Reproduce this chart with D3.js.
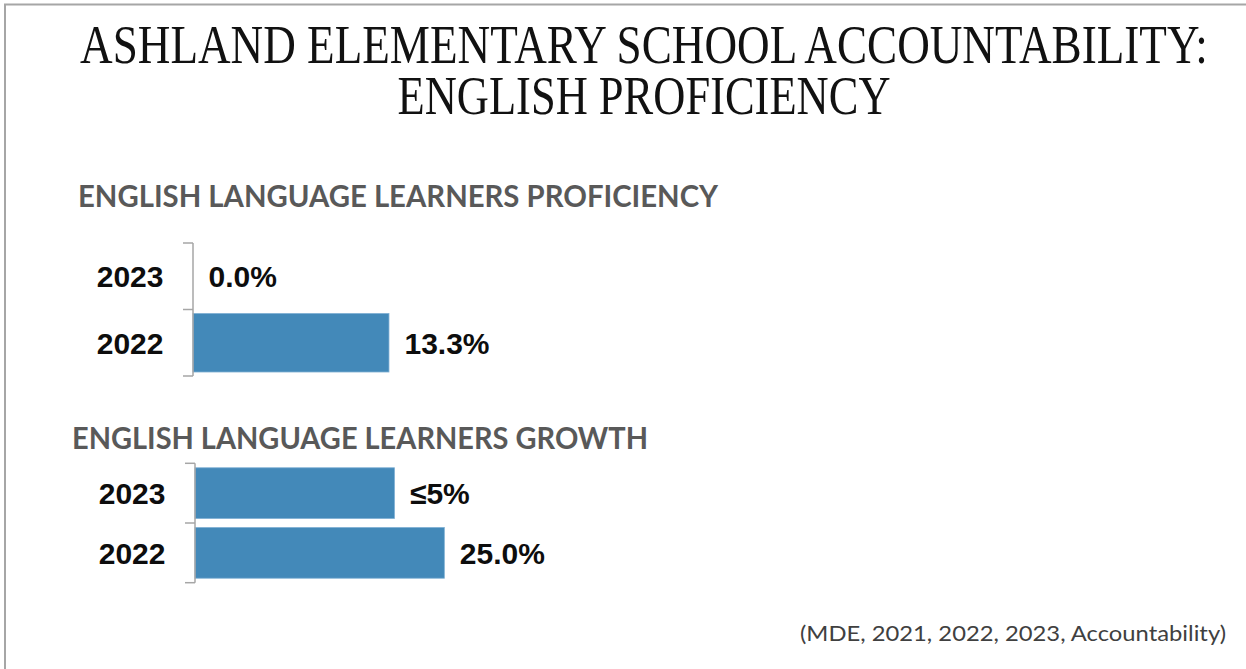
<!DOCTYPE html>
<html>
<head>
<meta charset="utf-8">
<script src="https://cdn.jsdelivr.net/npm/d3@7"></script>
<style>
  html, body { margin: 0; padding: 0; background: #ffffff; }
  svg { display: block; }
</style>
</head>
<body>
<svg id="chart" width="1246" height="669"></svg>
<script>
// Title and section headings
const titleLines = ["ASHLAND ELEMENTARY SCHOOL ACCOUNTABILITY:", "ENGLISH PROFICIENCY"];
const sectionTitles = ["ENGLISH LANGUAGE LEARNERS PROFICIENCY", "ENGLISH LANGUAGE LEARNERS GROWTH"];
const sourceNote = "(MDE, 2021, 2022, 2023, Accountability)";

// English Language Learners proficiency
const proficiencyYears = ["2023", "2022"];
const proficiencyValues = [0.0, 13.3];
const proficiencyLabels = ["0.0%", "13.3%"];

// English Language Learners growth
const growthYears = ["2023", "2022"];
const growthValues = [20.0, 25.0];
const growthLabels = ["\u22645%", "25.0%"];

const svg = d3.select("#chart");
const W = 1246, H = 669;

svg.append("rect").attr("width", W).attr("height", H).attr("fill", "#ffffff");

// slide frame (top and left edges)
svg.append("line").attr("x1", 4).attr("x2", W).attr("y1", 4.5).attr("y2", 4.5)
  .attr("stroke", "#a6a6a6").attr("stroke-width", 2);
svg.append("line").attr("x1", 5).attr("x2", 5).attr("y1", 4).attr("y2", H)
  .attr("stroke", "#a6a6a6").attr("stroke-width", 2);

// main title: two-line condensed serif, narrowed horizontally as one block
const titleFont = "'Liberation Serif', 'DejaVu Serif', serif";
const titleG = svg.append("g");
const titleText = titleG.append("text")
  .attr("text-anchor", "middle")
  .attr("font-family", titleFont).attr("font-size", 54)
  .attr("fill", "#111111");
const tLine1 = titleText.append("tspan").attr("x", 0).attr("y", 0).text(titleLines[0]);
const tLine2 = titleText.append("tspan").attr("x", 0).attr("y", 51).text(titleLines[1]);
const sx = 1128 / tLine1.node().getComputedTextLength();
tLine2.attr("textLength", 493 / sx).attr("lengthAdjust", "spacingAndGlyphs");
titleG.attr("transform", `translate(644,63) scale(${sx},1)`);

const headFont = "Lato, 'Liberation Sans', sans-serif";
const labelFont = "'Liberation Sans', Arial, sans-serif";

function drawPanel(cfg) {
  const g = svg.append("g");

  // section heading
  g.append("text")
    .attr("x", cfg.headX).attr("y", cfg.headY)
    .attr("font-family", headFont).attr("font-weight", 700)
    .attr("font-size", 31).attr("fill", "#595959")
    .attr("textLength", cfg.headW).attr("lengthAdjust", "spacingAndGlyphs")
    .text(cfg.heading);

  const x = d3.scaleLinear().domain(cfg.xDomain).range([cfg.x0, cfg.x0 + cfg.xWidth]);
  const y = d3.scaleBand().domain(cfg.years).range(cfg.yRange)
    .paddingInner(cfg.pad).paddingOuter(cfg.pad / 2);

  const rows = cfg.years.map((yr, i) => ({ year: yr, value: cfg.values[i], label: cfg.labels[i] }));

  // bars
  g.selectAll("rect.bar").data(rows).enter().append("rect")
    .attr("class", "bar")
    .attr("x", x(0))
    .attr("y", d => y(d.year))
    .attr("width", d => x(d.value) - x(0))
    .attr("height", y.bandwidth())
    .attr("fill", "#4389b9")
    .attr("stroke", "#7fb0d4").attr("stroke-width", 0.8);

  // category axis with tick marks between bands
  const axisX = x(0);
  g.append("line")
    .attr("x1", axisX).attr("x2", axisX)
    .attr("y1", cfg.yRange[0]).attr("y2", cfg.yRange[1])
    .attr("stroke", "#a6a6a6").attr("stroke-width", 1.5);
  const step = y.step();
  const tickYs = [cfg.yRange[0]].concat(cfg.years.map(yr => y(yr) + y.bandwidth() + (cfg.pad * step) / 2));
  tickYs[tickYs.length - 1] = cfg.yRange[1];
  g.selectAll("line.tick").data(tickYs).enter().append("line")
    .attr("class", "tick")
    .attr("x1", axisX - 10).attr("x2", axisX)
    .attr("y1", d => d).attr("y2", d => d)
    .attr("stroke", "#a6a6a6").attr("stroke-width", 1.5);

  // year labels
  g.selectAll("text.year").data(rows).enter().append("text")
    .attr("class", "year")
    .attr("x", axisX - 29.5)
    .attr("y", d => y(d.year) + y.bandwidth() / 2)
    .attr("dy", "0.36em")
    .attr("text-anchor", "end")
    .attr("font-family", labelFont).attr("font-weight", 700)
    .attr("font-size", 30).attr("fill", "#0d0d0d")
    .text(d => d.year);

  // value labels
  g.selectAll("text.val").data(rows).enter().append("text")
    .attr("class", "val")
    .attr("x", d => x(d.value) + 15.5)
    .attr("y", d => y(d.year) + y.bandwidth() / 2)
    .attr("dy", "0.36em")
    .attr("font-family", labelFont).attr("font-weight", 700)
    .attr("font-size", 30).attr("fill", "#0d0d0d")
    .text(d => d.label);
}

drawPanel({
  heading: sectionTitles[0], headX: 78, headY: 207, headW: 640,
  years: proficiencyYears, values: proficiencyValues, labels: proficiencyLabels,
  xDomain: [0, 20], x0: 193, xWidth: 294.7,
  yRange: [243, 376], pad: 0.12
});

drawPanel({
  heading: sectionTitles[1], headX: 72, headY: 449, headW: 576,
  years: growthYears, values: growthValues, labels: growthLabels,
  xDomain: [0, 30], x0: 195, xWidth: 299.2,
  yRange: [463.3, 582.7], pad: 0.15
});

// source note
svg.append("text")
  .attr("x", 1226).attr("y", 641)
  .attr("text-anchor", "end")
  .attr("font-family", "Lato, 'Liberation Sans', sans-serif")
  .attr("font-size", 21).attr("fill", "#404040")
  .attr("textLength", 426).attr("lengthAdjust", "spacingAndGlyphs")
  .text(sourceNote);
</script>
</body>
</html>
